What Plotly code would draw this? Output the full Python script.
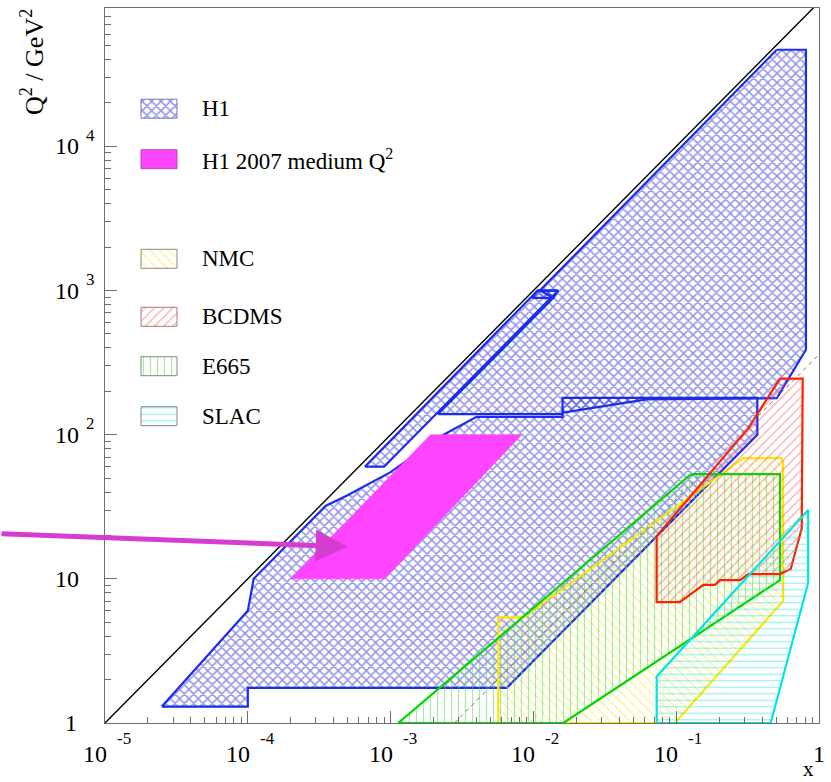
import numpy as np
import plotly.graph_objects as go

# ---------------- coverage regions in the (x, Q^2) plane ----------------
# H1: low-Q^2 region
h1_low_x = [2.5e-5, 1.0e-4, 1.0e-4, 6.5e-3, 0.37, 0.37, 0.016, 0.016, 4.0e-3,
            2.35e-3, 1.0e-3, 8.7e-4, 5.0e-4, 3.5e-4, 1.1e-4, 1.0e-4]
h1_low_q2 = [1.3, 1.3, 1.75, 1.75, 100, 180, 180, 133, 133,
             100, 55, 51, 38, 32, 10, 6]

# H1: high-Q^2 region
h1_high_x = [0.506, 0.81, 0.81, 0.506, 0.062, 0.016, 0.016, 2.15e-3, 0.0138, 0.0111]
h1_high_q2 = [46800, 46800, 388, 179, 176, 142, 139, 139, 890, 1000]

# H1: narrow band close to the kinematic limit
h1_band_x = [6.6e-4, 9.0e-4, 0.0149, 0.0107]
h1_band_q2 = [60, 60, 1000, 1000]
h1_bin_x = [0.0098, 0.0138, 0.0149, 0.0107]
h1_bin_q2 = [890, 890, 1000, 1000]

# H1 2007 medium Q^2
h1_2007_x = [2.0e-4, 9.1e-4, 8.3e-3, 1.9e-3]
h1_2007_q2 = [10, 10, 100, 100]

# fixed-target experiments
nmc_x = [5.67e-3, 5.67e-3, 8.5e-3, 0.295, 0.545, 0.56, 0.56, 0.098]
nmc_q2 = [1, 5.4, 5.4, 68.7, 68.7, 65, 7, 1]

bcdms_x = [0.533, 0.769, 0.757, 0.634, 0.533, 0.32, 0.28, 0.203, 0.187, 0.155,
           0.106, 0.073, 0.073, 0.32]
bcdms_q2 = [245, 245, 22.4, 11.7, 10.8, 10.8, 9.8, 9.8, 9.07, 9.07,
            6.9, 6.9, 19.8, 111]

e665_x = [1.13e-3, 0.125, 0.132, 0.533, 0.533, 0.0162]
e665_q2 = [1, 52.6, 53.2, 53.2, 9.8, 1]

slac_x = [0.073, 0.073, 0.84, 0.84, 0.459]
slac_q2 = [1, 2.1, 30, 9.4, 1]

# kinematic limit Q^2 = s x and the fixed-target limit (dashed)
kin_x = [1e-5, 1.0]
kin_q2 = [1.0, 1e5]
ft_x = [2.8e-3, 1.0]
ft_q2 = [1.0, 360]

# arrow pointing at the H1 2007 region
arrow_tip_x = 5.0e-4
arrow_tip_q2 = 16.7

# tick labels
x_tick_vals = [1e-5, 1e-4, 1e-3, 1e-2, 1e-1, 1.0]
x_tick_base = ["10", "10", "10", "10", "10", "1"]
x_tick_exp = ["-5", "-4", "-3", "-2", "-1", ""]
y_tick_vals = [1, 10, 100, 1e3, 1e4]
y_tick_base = ["1", "10", "10", "10", "10"]
y_tick_exp = ["", "", "2", "3", "4"]

# legend entries
legend_names = ["H1", "H1 2007 medium Q<sup>2</sup>", "NMC", "BCDMS", "E665", "SLAC"]

# ---------------- styles ----------------
SERIF = "Liberation Serif, Times New Roman, serif"
BLUE = "rgb(25,45,235)"
MAGENTA = "rgb(255,68,255)"
YELLOW = "rgb(255,232,0)"
RED = "rgb(255,34,0)"
GREEN = "rgb(0,215,0)"
CYAN = "rgb(0,228,228)"
FRAME = "rgb(110,110,110)"

pat_h1 = dict(shape="x", size=6.6, solidity=0.4, fgcolor="rgb(40,40,205)", bgcolor="rgba(0,0,0,0)")
pat_nmc = dict(shape="\\", size=7, solidity=0.19, fgcolor="rgb(240,232,40)", bgcolor="rgba(0,0,0,0)")
pat_bcdms = dict(shape="/", size=6.5, solidity=0.19, fgcolor="rgb(240,80,80)", bgcolor="rgba(0,0,0,0)")
pat_e665 = dict(shape="|", size=7, solidity=0.18, fgcolor="rgb(90,210,90)", bgcolor="rgba(0,0,0,0)")
pat_slac = dict(shape="-", size=6.5, solidity=0.19, fgcolor="rgb(60,220,220)", bgcolor="rgba(0,0,0,0)")

fig = go.Figure()


def ring(xs, ys):
    return list(xs) + [xs[0]], list(ys) + [ys[0]]


def region(xs, ys, color, pattern=None, fill=None, width=2.2, xaxis="x", yaxis="y"):
    rx, ry = ring(xs, ys)
    kw = dict(x=rx, y=ry, mode="lines", fill="toself",
              line=dict(color=color, width=width),
              hoverinfo="skip", showlegend=False, xaxis=xaxis, yaxis=yaxis)
    if pattern is not None:
        kw["fillpattern"] = pattern
        kw["fillcolor"] = "rgba(0,0,0,0)"
    else:
        kw["fillcolor"] = fill
    fig.add_trace(go.Scatter(**kw))


# H1 regions
region(h1_low_x, h1_low_q2, BLUE, pat_h1)
region(h1_high_x, h1_high_q2, BLUE, pat_h1)
region(h1_band_x, h1_band_q2, BLUE, pat_h1)
region(h1_bin_x, h1_bin_q2, BLUE, pat_h1)
# H1 2007 medium Q^2
region(h1_2007_x, h1_2007_q2, MAGENTA, fill=MAGENTA, width=0.5)
# fixed target
region(nmc_x, nmc_q2, YELLOW, pat_nmc)
region(e665_x, e665_q2, GREEN, pat_e665)
region(bcdms_x, bcdms_q2, RED, pat_bcdms)
region(slac_x, slac_q2, CYAN, pat_slac)

fig.add_trace(go.Scatter(x=ft_x, y=ft_q2, mode="lines",
                         line=dict(color="rgb(120,120,120)", width=1, dash="4px,4px"),
                         hoverinfo="skip", showlegend=False))
fig.add_trace(go.Scatter(x=kin_x, y=kin_q2, mode="lines",
                         line=dict(color="black", width=1.4),
                         hoverinfo="skip", showlegend=False))

# ---------------- legend (drawn on a pixel-scaled overlay) ----------------
legend_rows = [108.7, 159.2, 258.8, 316.8, 366.2, 416.2]
legend_styles = [
    dict(pattern=pat_h1, border="rgb(120,120,190)"),
    dict(fill=MAGENTA, border="rgb(170,80,170)"),
    dict(pattern=pat_nmc, border="rgb(140,140,120)"),
    dict(pattern=pat_bcdms, border="rgb(170,120,120)"),
    dict(pattern=pat_e665, border="rgb(120,140,120)"),
    dict(pattern=pat_slac, border="rgb(120,140,140)"),
]
annotations = []
for yc, name, st in zip(legend_rows, legend_names, legend_styles):
    bx = [141, 177, 177, 141]
    by = [yc - 9.5, yc - 9.5, yc + 9.5, yc + 9.5]
    region(bx, by, st["border"], st.get("pattern"), st.get("fill"), width=1,
           xaxis="x2", yaxis="y2")
    annotations.append(dict(xref="x2", yref="y2", x=200, y=yc, text=name,
                            showarrow=False, xanchor="left", yanchor="middle",
                            font=dict(family=SERIF, size=23, color="black")))

# ---------------- tick labels ----------------
for v, b, e in zip(x_tick_vals, x_tick_base, x_tick_exp):
    lv = np.log10(v)
    if e:
        annotations.append(dict(xref="x", yref="paper", x=lv, y=0, text=b, showarrow=False,
                                xanchor="right", yanchor="middle", xshift=4, yshift=-30.5,
                                font=dict(family=SERIF, size=24, color="black")))
        annotations.append(dict(xref="x", yref="paper", x=lv, y=0, text=e, showarrow=False,
                                xanchor="left", yanchor="middle", xshift=10, yshift=-15.5,
                                font=dict(family=SERIF, size=17, color="black")))
    else:
        annotations.append(dict(xref="x", yref="paper", x=lv, y=0, text=b, showarrow=False,
                                xanchor="center", yanchor="middle", xshift=0, yshift=-30.5,
                                font=dict(family=SERIF, size=24, color="black")))

for v, b, e in zip(y_tick_vals, y_tick_base, y_tick_exp):
    lv = np.log10(v)
    annotations.append(dict(xref="paper", yref="y", x=0, y=lv, text=b, showarrow=False,
                            xanchor="right", yanchor="middle",
                            xshift=-24 if b == "10" else -26,
                            font=dict(family=SERIF, size=24, color="black")))
    if e:
        annotations.append(dict(xref="paper", yref="y", x=0, y=lv, text=e, showarrow=False,
                                xanchor="left", yanchor="middle", xshift=-21, yshift=11,
                                font=dict(family=SERIF, size=17, color="black")))

# axis titles
annotations.append(dict(xref="paper", yref="paper", x=0, y=1, xshift=-73, yshift=1,
                        text="Q<sup>2</sup> / GeV<sup>2</sup>", textangle=-90,
                        showarrow=False, xanchor="center", yanchor="top",
                        font=dict(family=SERIF, size=26, color="black")))
annotations.append(dict(xref="paper", yref="paper", x=1, y=0, xshift=-3, yshift=-31.5,
                        text="x", showarrow=False, xanchor="right", yanchor="top",
                        font=dict(family=SERIF, size=21, color="black")))

# arrow
annotations.append(dict(xref="x", yref="y", x=np.log10(arrow_tip_x), y=np.log10(arrow_tip_q2),
                        text="", showarrow=True, arrowhead=2, arrowsize=1.28, arrowwidth=5,
                        arrowcolor="rgb(215,60,210)", ax=-348, ay=-13, standoff=0))

axis_common = dict(showgrid=False, zeroline=False, showline=True, mirror=True,
                   linecolor=FRAME, linewidth=1.2, ticks="inside", ticklen=12,
                   tickcolor=FRAME, tickwidth=1.2, showticklabels=False, dtick=1,
                   minor=dict(ticks="inside", ticklen=6, tickcolor=FRAME, tickwidth=1.2,
                              dtick="D1"))

fig.update_layout(
    width=831, height=782,
    margin=dict(l=105, r=12, t=8, b=59),
    paper_bgcolor="white", plot_bgcolor="white",
    showlegend=False,
    xaxis=dict(type="log", range=[-5, 0], **axis_common),
    yaxis=dict(type="log", range=[0, 4.96], **axis_common),
    xaxis2=dict(domain=[0, 1], range=[105, 819], overlaying="x", anchor="y2", visible=False),
    yaxis2=dict(domain=[0, 1], range=[723, 8], overlaying="y", anchor="x2", visible=False),
    annotations=annotations,
)

fig.write_html("out.html")
